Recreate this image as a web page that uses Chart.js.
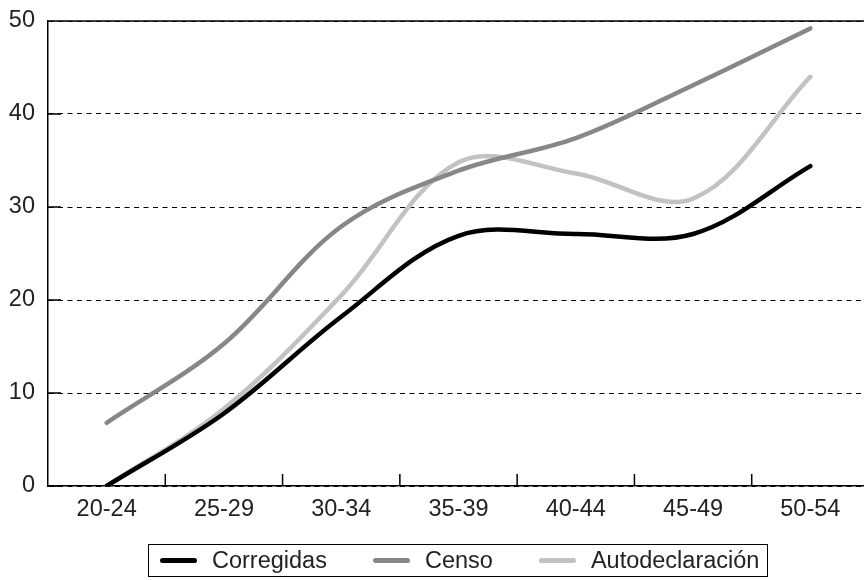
<!DOCTYPE html>
<html>
<head>
<meta charset="utf-8">
<script src="https://cdn.jsdelivr.net/npm/chart.js@4"></script>
<style>
  html, body { margin: 0; padding: 0; background: #fff; overflow: hidden; }
  #wrap { position: relative; width: 872px; height: 580px; }
  #leyenda {
    position: absolute; left: 148px; top: 544px; width: 620px; height: 33px;
    box-sizing: border-box; border: 1.2px solid #000;
    display: flex; align-items: center; padding-left: 11px;
    font-family: 'Liberation Sans', Arial, sans-serif; font-size: 23.5px; color: #222;
  }
  #leyenda .item { display: flex; align-items: center; margin-right: 46px; }
  #leyenda .item:last-child { margin-right: 0; }
  #leyenda .marca { width: 37px; height: 5px; border-radius: 2.5px; margin-right: 15px; }
</style>
</head>
<body>
<div id="wrap">
  <canvas id="grafico" width="872" height="580"></canvas>
  <div id="leyenda"></div>
</div>
<script>
// grupos de edad
const grupos = ['20-24', '25-29', '30-34', '35-39', '40-44', '45-49', '50-54'];

// series
const corregidas      = [0, 7.8, 18.2, 26.9, 27.1, 27.1, 34.4];
const censo           = [6.8, 15.3, 27.9, 33.9, 37.4, 43.1, 49.2];
const autodeclaracion = [0, 8.3, 20.5, 34.8, 33.6, 30.9, 44.0];

const yTicks = [0, 10, 20, 30, 40, 50];

const fuente = "'Liberation Sans', Arial, sans-serif";

// marcas interiores y borde superior
const marcas = {
    id: 'marcas',
    afterDraw(chart) {
        const { ctx, chartArea: a, scales: { x, y } } = chart;
        ctx.save();
        ctx.strokeStyle = '#000';
        ctx.lineWidth = 1.5;
        ctx.beginPath();
        ctx.moveTo(a.left, a.top);
        ctx.lineTo(a.right, a.top);
        yTicks.forEach(v => {
            const py = y.getPixelForValue(v);
            ctx.moveTo(a.left, py);
            ctx.lineTo(a.left + 13, py);
        });
        for (let i = 1; i < grupos.length; i++) {
            const px = (x.getPixelForValue(i - 1) + x.getPixelForValue(i)) / 2;
            ctx.moveTo(px, a.bottom);
            ctx.lineTo(px, a.bottom - 12);
        }
        ctx.stroke();
        ctx.restore();
    }
};

const serie = (label, data, color) => ({
    label,
    data,
    borderColor: color,
    backgroundColor: color,
    borderWidth: 4.5,
    borderCapStyle: 'round',
    pointRadius: 0,
    tension: 0.35,
    fill: false
});

const chart = new Chart(document.getElementById('grafico'), {
    type: 'line',
    data: {
        labels: grupos,
        datasets: [
            serie('Corregidas', corregidas, '#000000'),
            serie('Censo', censo, '#878787'),
            serie('Autodeclaración', autodeclaracion, '#c2c2c2')
        ]
    },
    options: {
        responsive: false,
        animation: false,
        devicePixelRatio: 1,
        layout: { padding: { left: 0, right: 3, top: 0, bottom: 0 } },
        plugins: {
            tooltip: { enabled: false },
            legend: { display: false }
        },
        scales: {
            x: {
                offset: true,
                afterFit: s => { s.height = 94; },
                grid: { display: false },
                border: { display: true, color: '#000', width: 1.5 },
                ticks: { color: '#222', padding: 1, font: { family: fuente, size: 23.5 } }
            },
            y: {
                min: 0,
                max: 50,
                afterFit: s => { s.width = 48; s.paddingTop = 21; s.paddingBottom = 0; },
                afterBuildTicks: s => { s.ticks = yTicks.map(v => ({ value: v })); },
                grid: { color: '#000', lineWidth: 1, drawTicks: false },
                border: { display: true, color: '#000', width: 1.5, dash: [5, 4.5] },
                ticks: { color: '#222', padding: 13, font: { family: fuente, size: 23.5 } }
            }
        }
    },
    plugins: [marcas]
});

// leyenda con recuadro
const leyenda = document.getElementById('leyenda');
chart.data.datasets.forEach(ds => {
    const item = document.createElement('div');
    item.className = 'item';
    const marca = document.createElement('span');
    marca.className = 'marca';
    marca.style.background = ds.borderColor;
    const texto = document.createElement('span');
    texto.textContent = ds.label;
    item.appendChild(marca);
    item.appendChild(texto);
    leyenda.appendChild(item);
});
</script>
</body>
</html>
